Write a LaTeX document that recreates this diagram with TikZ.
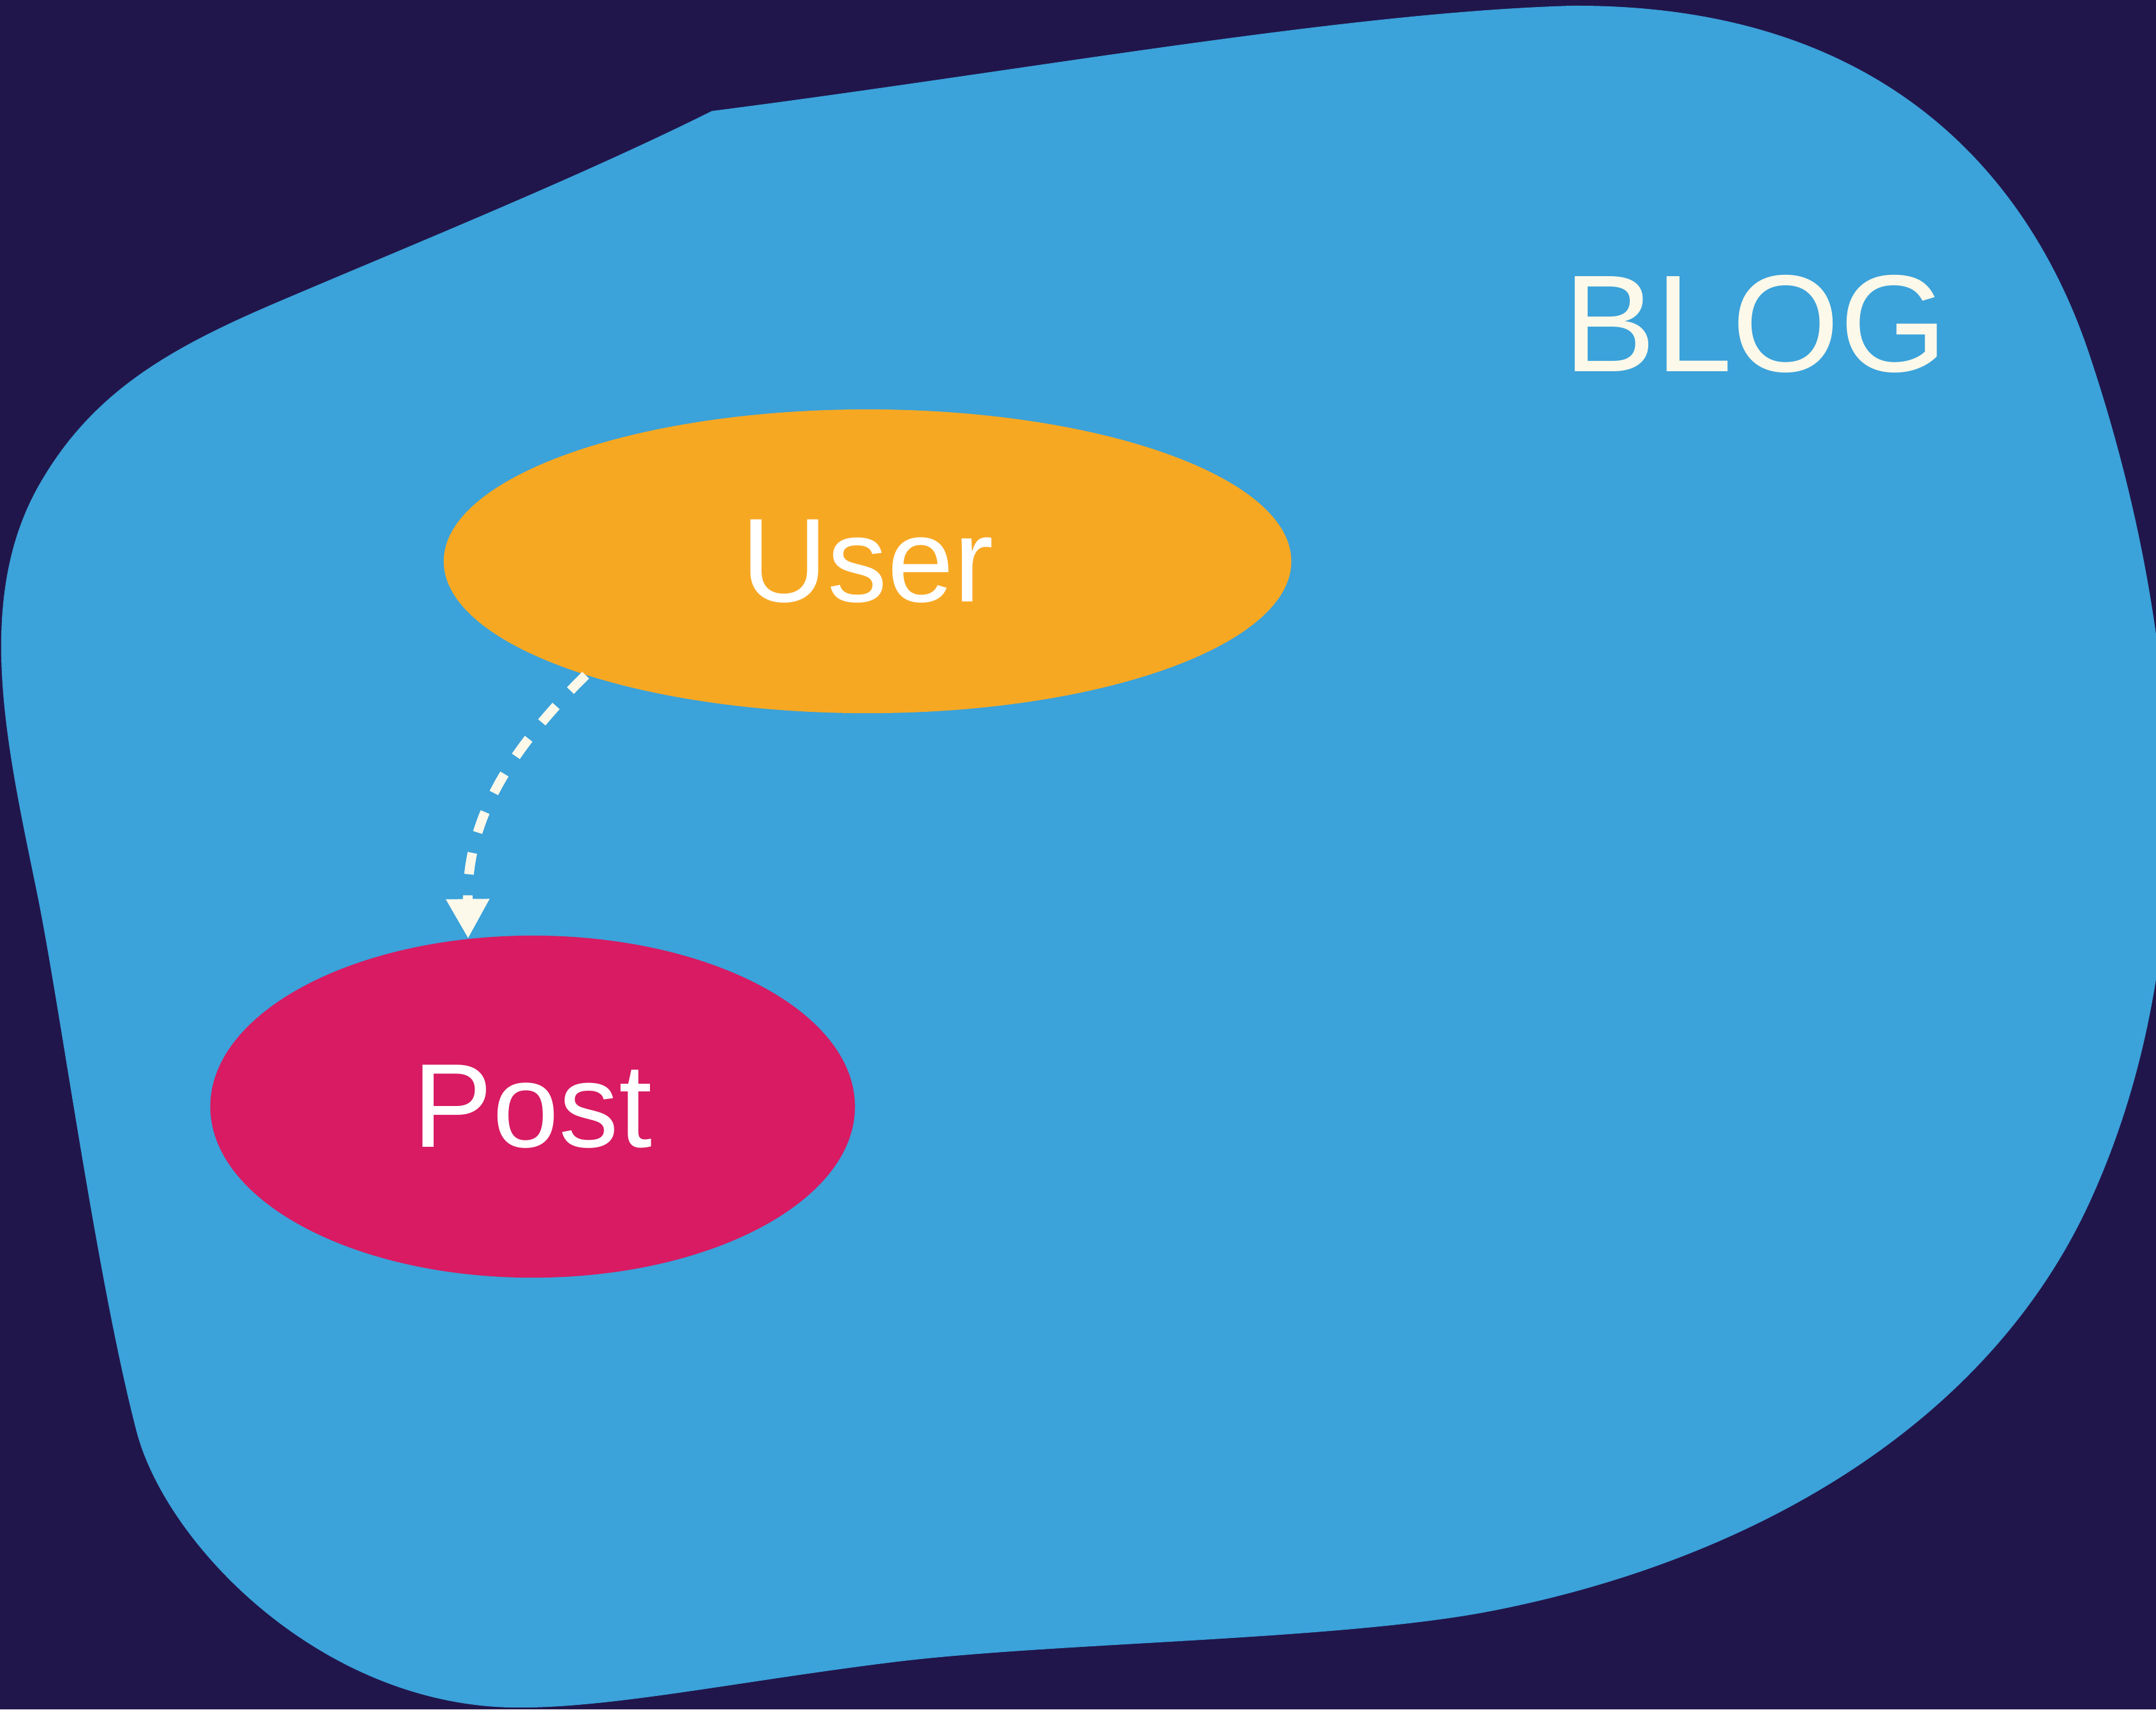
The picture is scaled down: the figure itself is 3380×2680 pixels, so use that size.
\documentclass[tikz,border=0pt]{standalone}
\usepackage{fontspec}
\setmainfont{Liberation Sans}
\usetikzlibrary{shapes.geometric,arrows.meta}
\definecolor{bgdark}{HTML}{21164B}
\definecolor{blobblue}{HTML}{3BA2DA}
\definecolor{userorange}{HTML}{F7A823}
\definecolor{postpink}{HTML}{D81B62}
\definecolor{cream}{HTML}{FDF9EA}
\tikzset{
  blobshape/.style={fill=blobblue},
  entity/.style={ellipse, inner sep=0pt, text=white, font=\fontsize{53.2}{60}\selectfont},
  flow/.style={draw=cream, line width=0.15cm, dash pattern=on 0.34cm off 0.33cm,
    -{Triangle[length=0.62cm,width=0.64cm]}},
  title/.style={text=cream, font=\fontsize{61.6}{70}\selectfont, inner sep=0pt}
}
\begin{document}
\begin{tikzpicture}[x=0.01cm,y=-0.01cm]
\fill[bgdark] (0,0) rectangle (3380,2680);
\useasboundingbox (0,0) rectangle (3380,2680);
\clip (0,0) rectangle (3380,2680);
\fill[blobshape] (1116,174)
  .. controls (1600,112) and (2100,20) .. (2462,9)
  .. controls (3000,5) and (3200,330) .. (3275,554)
  .. controls (3418,981) and (3464,1477) .. (3275,1887)
  .. controls (3115,2233) and (2749,2446) .. (2337,2526)
  .. controls (2100,2572) and (1650,2575) .. (1400,2606)
  .. controls (1150,2637) and (950,2680) .. (800,2677)
  .. controls (500,2670) and (260,2420) .. (214,2244)
  .. controls (151,2002) and (94,1576) .. (58,1400)
  .. controls (12,1175) and (-43,942) .. (62,759)
  .. controls (147,611) and (271,543) .. (446,469)
  .. controls (648,383) and (916,274) .. (1116,174)
  -- cycle;
\node[title] (blog) at (2752,508) {BLOG};
\node[entity, fill=userorange, minimum width=13.28cm, minimum height=4.76cm] (user) at (1360,880) {User};
\node[entity, fill=postpink, minimum width=10.1cm, minimum height=5.36cm] (post) at (835,1735) {Post};
\draw[flow] (user.202) .. controls (785,1190) and (732,1296) .. (post.111);
\end{tikzpicture}
\end{document}
